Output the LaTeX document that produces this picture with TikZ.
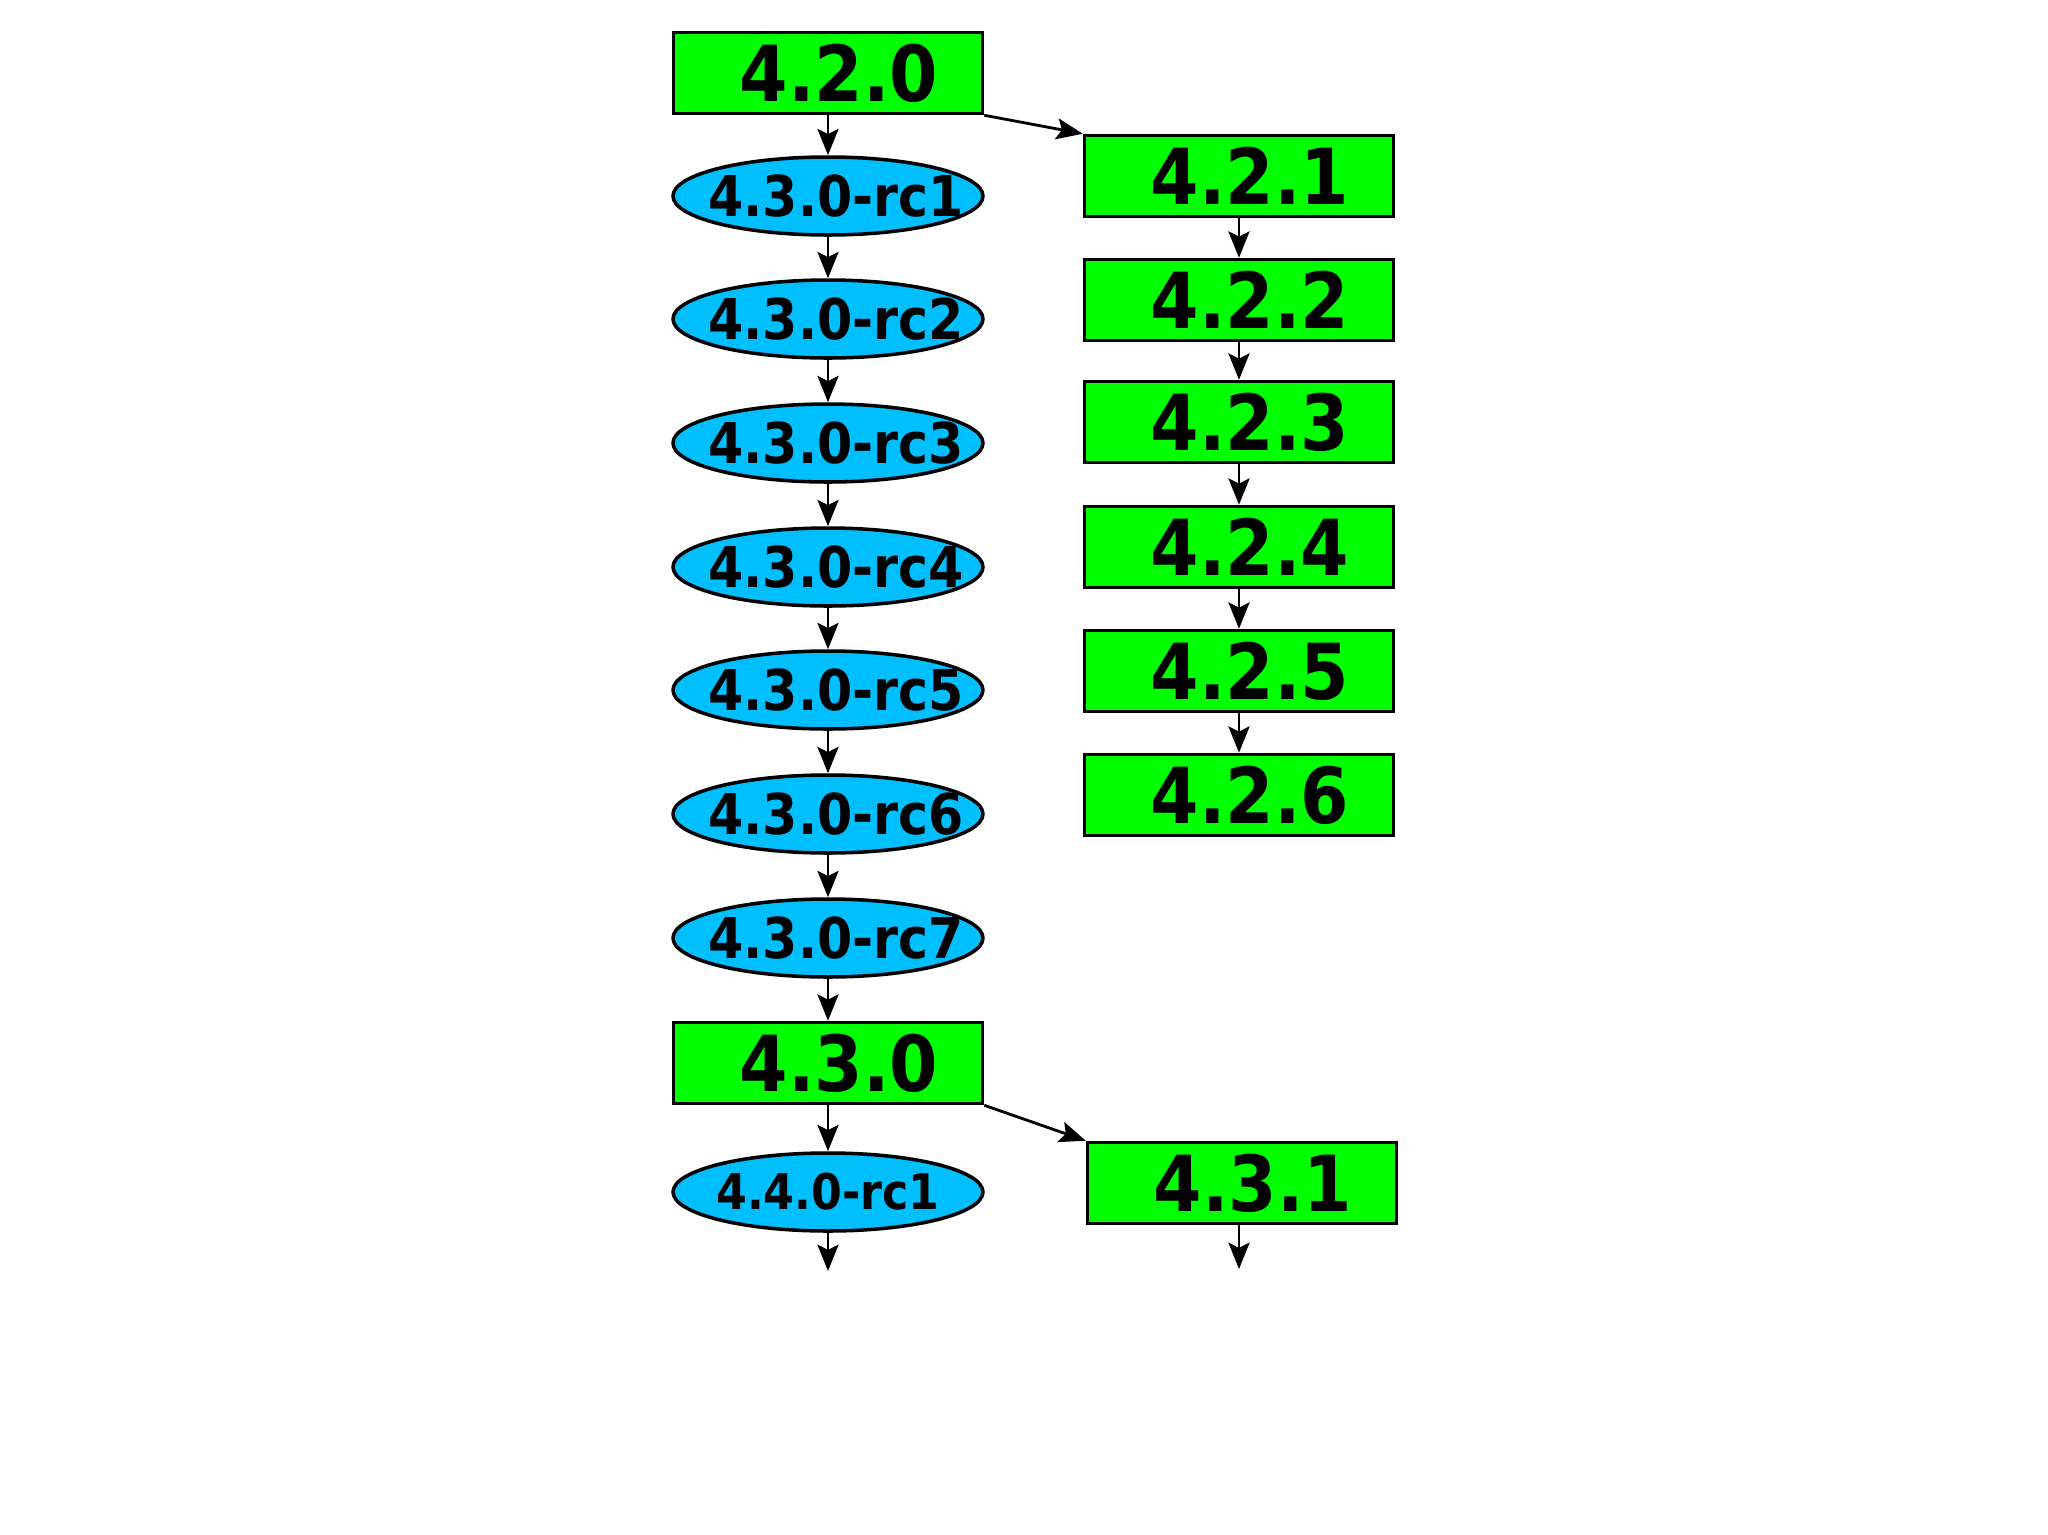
\documentclass[tikz,border=0pt]{standalone}
\usepackage{fontspec}
\newfontfamily\verfont{DejaVu Sans}[FakeStretch=0.9]
\definecolor{RELgreen}{HTML}{00FF00}
\definecolor{RCblue}{HTML}{00BFFF}
\usetikzlibrary{arrows.meta, shapes.geometric}

\begin{document}
\begin{tikzpicture}[
      release/.style={draw, line width=1pt, fill=RELgreen, minimum width=3.09cm,
         minimum height=0.81cm, inner sep=0pt, font=\verfont\bfseries\fontsize{22}{24}\selectfont,
         execute at begin node=\hspace*{0.22cm}},
      candidate/.style={draw, ellipse, line width=1pt, fill=RCblue, minimum width=3.1cm,
         minimum height=0.78cm, inner xsep=-1cm, inner ysep=-0.4cm,
         font=\verfont\bfseries\fontsize{14}{16}\selectfont},
      rcbig/.style={candidate, font=\verfont\bfseries\fontsize{16}{18}\selectfont,
         execute at begin node=\hspace*{0.16cm}},
      flow/.style={-{Stealth[length=7.5pt, width=6pt, inset=1.5pt]}, line width=0.8pt}
   ]
   \useasboundingbox (0,0) rectangle (20.48,-15.35);
   % 4.2 maintenance line
   \node[release] (r420) at (8.28,-0.73) {4.2.0};
   \node[release] (r421) at (12.39,-1.76) {4.2.1};
   \node[release] (r422) at (12.39,-3.00) {4.2.2};
   \node[release] (r423) at (12.39,-4.22) {4.2.3};
   \node[release] (r424) at (12.39,-5.47) {4.2.4};
   \node[release] (r425) at (12.39,-6.71) {4.2.5};
   \node[release] (r426) at (12.39,-7.95) {4.2.6};
   % 4.3 release candidates
   \node[rcbig] (rc1) at (8.28,-1.96) {4.3.0-rc1};
   \node[rcbig] (rc2) at (8.28,-3.19) {4.3.0-rc2};
   \node[rcbig] (rc3) at (8.28,-4.43) {4.3.0-rc3};
   \node[rcbig] (rc4) at (8.28,-5.67) {4.3.0-rc4};
   \node[rcbig] (rc5) at (8.28,-6.90) {4.3.0-rc5};
   \node[rcbig] (rc6) at (8.28,-8.14) {4.3.0-rc6};
   \node[rcbig] (rc7) at (8.28,-9.38) {4.3.0-rc7};
   % 4.3 release and next branch
   \node[release] (r430) at (8.28,-10.63) {4.3.0};
   \node[release] (r431) at (12.42,-11.83) {4.3.1};
   \node[candidate] (rc440) at (8.28,-11.92) {4.4.0-rc1};
   \coordinate (nextL) at (8.28,-12.71);
   \coordinate (nextR) at (12.39,-12.69);
   % Connectors
   \draw[flow] (r420) -- (rc1);
   \draw[flow] (rc1) -- (rc2);
   \draw[flow] (rc2) -- (rc3);
   \draw[flow] (rc3) -- (rc4);
   \draw[flow] (rc4) -- (rc5);
   \draw[flow] (rc5) -- (rc6);
   \draw[flow] (rc6) -- (rc7);
   \draw[flow] (rc7) -- (r430);
   \draw[flow] (r430) -- (rc440);
   \draw[flow] (rc440) -- (nextL);
   \draw[flow] (r420.south east) -- (r421.north west);
   \draw[flow] (r421) -- (r422);
   \draw[flow] (r422) -- (r423);
   \draw[flow] (r423) -- (r424);
   \draw[flow] (r424) -- (r425);
   \draw[flow] (r425) -- (r426);
   \draw[flow] (r430.south east) -- (r431.north west);
   \draw[flow] (r431.south -| nextR) -- (nextR);
\end{tikzpicture}
\end{document}
